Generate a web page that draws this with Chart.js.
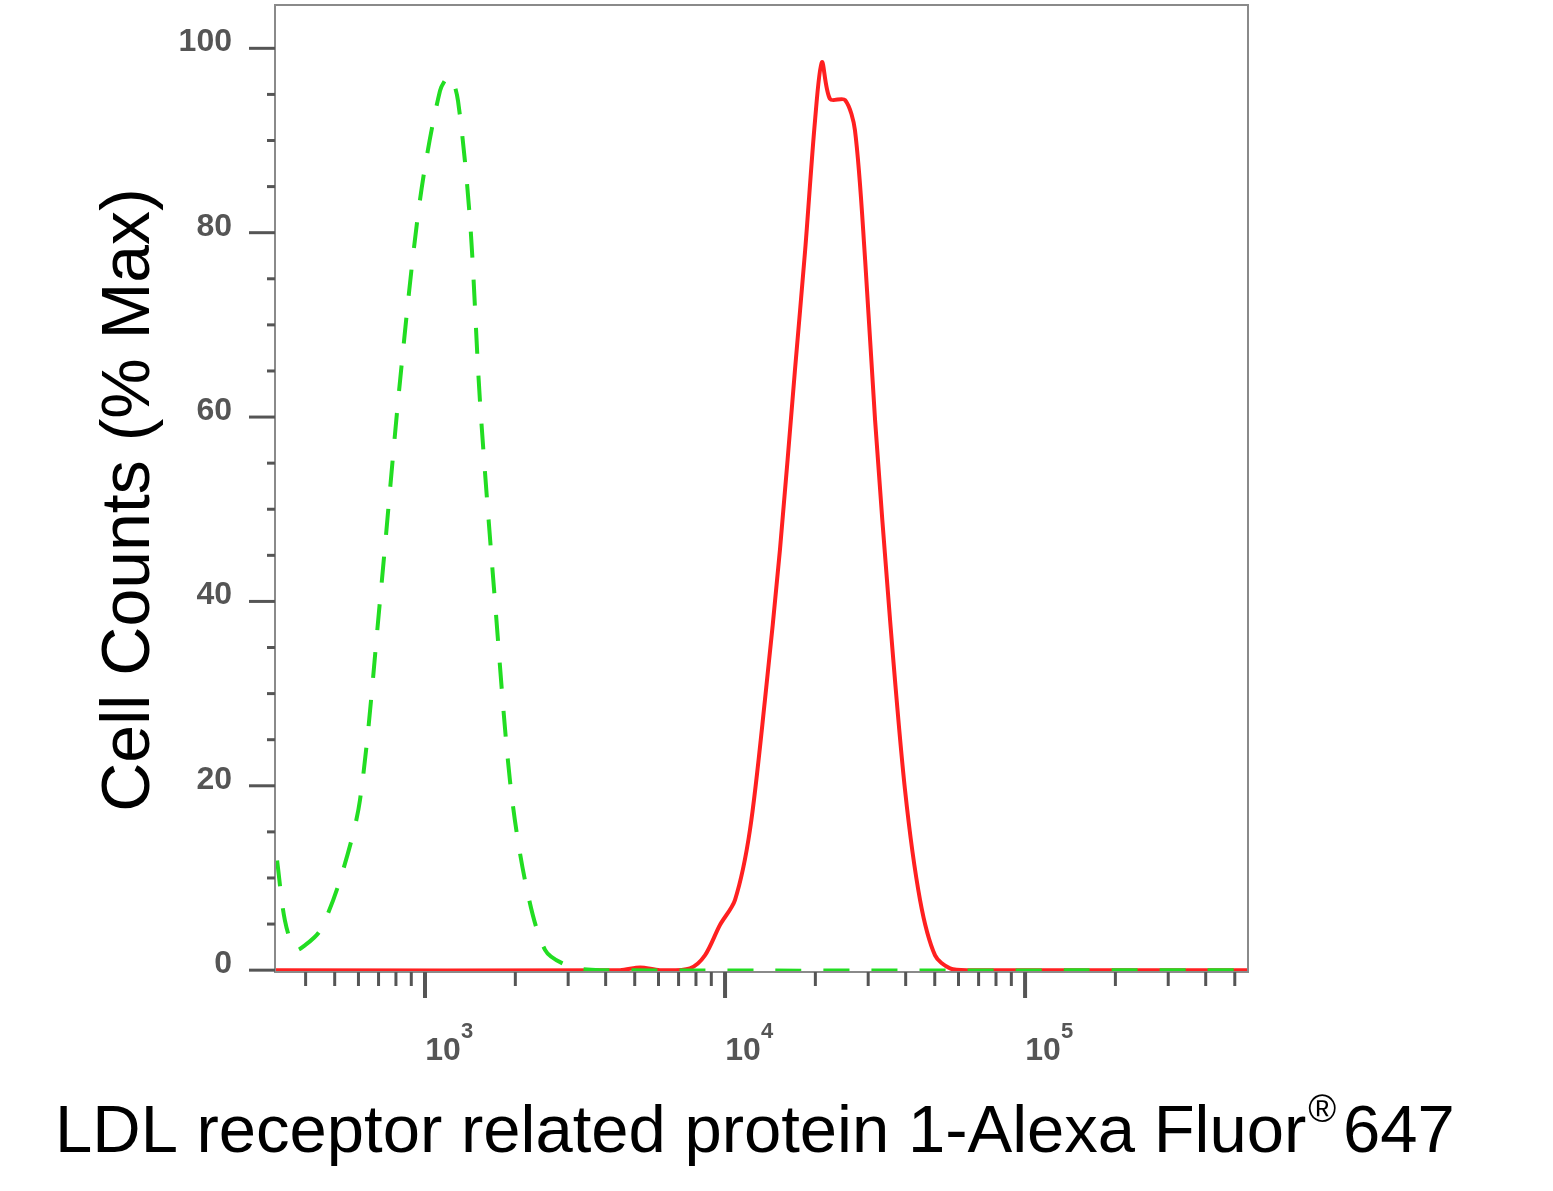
<!DOCTYPE html>
<html>
<head>
<meta charset="utf-8">
<script src="https://cdn.jsdelivr.net/npm/chart.js@4"></script>
<style>
  html, body { margin: 0; padding: 0; background: #fff; }
  #wrap { width: 1553px; height: 1191px; position: relative; }
</style>
</head>
<body>
<div id="wrap"><canvas id="histo"></canvas></div>
<script>
/* -------- DATA START -------- */
// x values are log10(fluorescence), y values are % of max
const isotypeX = [2.507, 2.533, 2.567, 2.6, 2.65, 2.717, 2.783, 2.85, 2.917, 2.983, 3.05, 3.083, 3.11, 3.15, 3.183, 3.233, 3.283, 3.333, 3.4, 3.483, 3.583, 5.74];
const isotypeY = [11.9, 5.4, 2.2, 2.7, 4.3, 9.8, 18.4, 40.1, 64.0, 83.5, 95.4, 97.0, 94.3, 81.3, 61.8, 40.1, 20.6, 9.8, 2.2, 0.4, 0, 0];
const sampleX = [2.5, 3.65, 3.717, 3.783, 3.883, 3.933, 3.983, 4.033, 4.083, 4.133, 4.183, 4.233, 4.267, 4.3, 4.323, 4.35, 4.4, 4.433, 4.467, 4.5, 4.55, 4.6, 4.65, 4.7, 4.75, 4.817, 5.74];
const sampleY = [0, 0, 0.3, 0, 0.2, 1.6, 4.9, 7.6, 15.2, 29.3, 45.6, 65.1, 78.1, 92.2, 98.5, 94.5, 94.4, 91.1, 77, 59.7, 38, 19.5, 7.6, 1.6, 0.2, 0, 0];
const yTickLabels = [0, 20, 40, 60, 80, 100];
const xDecades = [3, 4, 5];
const yTitle = "Cell Counts (% Max)";
const xTitle = "LDL receptor related protein 1-Alexa Fluor";
/* -------- DATA END -------- */

function toPoints(xs, ys) {
    return xs.map((x, i) => ({ x: x, y: ys[i] }));
}

// plugin draws frame, ticks and texts from the scales
const axesPlugin = {
    id: "flowAxes",
    afterDraw(chart) {
        const ctx = chart.ctx;
        const a = chart.chartArea;
        const xs = chart.scales.x;
        const ys = chart.scales.y;
        ctx.save();
        ctx.strokeStyle = "#8a8a8a";
        ctx.lineWidth = 2;
        ctx.strokeRect(a.left, a.top, a.right - a.left, a.bottom - a.top);

        // y ticks
        ctx.strokeStyle = "#555";
        ctx.lineWidth = 3;
        for (let v = 0; v <= 100; v += 5) {
            const py = ys.getPixelForValue(v);
            const len = v % 20 === 0 ? 26 : 8;
            ctx.beginPath();
            ctx.moveTo(a.left - len, py);
            ctx.lineTo(a.left, py);
            ctx.stroke();
        }
        ctx.fillStyle = "#555";
        ctx.font = "bold 32px 'Liberation Sans', Arial";
        ctx.textAlign = "right";
        ctx.textBaseline = "middle";
        yTickLabels.forEach(v => {
            ctx.fillText(String(v), 232, ys.getPixelForValue(v) - 6);
        });

        // x ticks (log decades with minor ticks)
        for (let d = 2; d <= 5; d++) {
            for (let k = 1; k <= 9; k++) {
                const lv = d + Math.log10(k);
                if (lv < xs.min || lv > xs.max) continue;
                const px = xs.getPixelForValue(lv);
                const len = k === 1 ? 26 : 14;
                ctx.lineWidth = k === 1 ? 4 : 3;
                ctx.beginPath();
                ctx.moveTo(px, a.bottom);
                ctx.lineTo(px, a.bottom + len);
                ctx.stroke();
            }
        }
        ctx.textAlign = "center";
        ctx.textBaseline = "alphabetic";
        xDecades.forEach(d => {
            const px = xs.getPixelForValue(d);
            ctx.font = "bold 32px 'Liberation Sans', Arial";
            ctx.fillText("10", px + 18, 1060);
            ctx.font = "bold 22px 'Liberation Sans', Arial";
            ctx.fillText(String(d), px + 42, 1038);
        });

        // titles
        ctx.fillStyle = "#000";
        ctx.font = "68px 'Liberation Sans', Arial";
        ctx.save();
        ctx.translate(130, 500);
        ctx.rotate(-Math.PI / 2);
        ctx.textBaseline = "middle";
        ctx.fillText(yTitle, 0, 0);
        ctx.restore();

        ctx.textAlign = "left";
        ctx.font = "67px 'Liberation Sans', Arial";
        const x0 = 55, y0 = 1152;
        ctx.fillText(xTitle, x0, y0);
        let w = ctx.measureText(xTitle).width;
        ctx.font = "38px 'Liberation Sans', Arial";
        ctx.fillText("®", x0 + w + 2, y0 - 30);
        const rw = ctx.measureText("®").width;
        ctx.font = "67px 'Liberation Sans', Arial";
        ctx.fillText(" 647", x0 + w + rw - 10, y0);
        ctx.restore();
    }
};

/* -------- PROGRAM START -------- */
document.addEventListener("DOMContentLoaded", () => {
    new Chart(document.getElementById("histo"), {
        type: "line",
        data: {
            datasets: [
                {
                    label: "Isotype",
                    data: toPoints(isotypeX, isotypeY),
                    borderColor: "#22dd22",
                    borderWidth: 4,
                    borderDash: [26, 22],
                    pointRadius: 0,
                    tension: 0.3,
                    fill: false
                },
                {
                    label: "LRP1",
                    data: toPoints(sampleX, sampleY),
                    borderColor: "#ff2020",
                    borderWidth: 4,
                    pointRadius: 0,
                    tension: 0.3,
                    fill: false
                }
            ]
        },
        options: {
            responsive: true,
            maintainAspectRatio: false,
            animation: false,
            layout: { padding: { left: 275, top: 5, right: 305, bottom: 219 } },
            plugins: { legend: { display: false }, tooltip: { enabled: false } },
            scales: {
                x: { type: "linear", min: 2.5, max: 5.743, display: false },
                y: { type: "linear", min: -0.2, max: 104.7, display: false }
            }
        },
        plugins: [axesPlugin]
    });
});
</script>
</body>
</html>
